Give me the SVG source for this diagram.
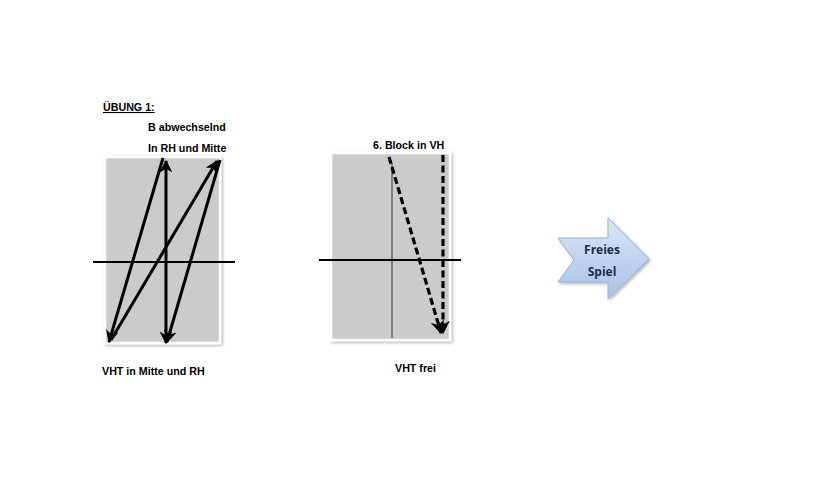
<svg xmlns="http://www.w3.org/2000/svg" width="820" height="500" viewBox="0 0 820 500">
<defs>
<style>
.t{font-family:"Liberation Sans",Arial,sans-serif;font-weight:bold;font-size:10.7px;fill:#000}
.panel{fill:#cbcbcb;stroke:#ffffff;stroke-width:2.5}
.ln{stroke:#000;stroke-width:3;fill:none}
.dash{stroke:#000;stroke-width:3.2;fill:none;stroke-dasharray:7,3.5}
.axis{stroke:#000;stroke-width:2.2}
.thin{stroke:#333;stroke-width:1}
.lbl{font-family:"Open Sans","Liberation Sans",sans-serif;font-weight:bold;font-size:12px;fill:#1b2f4d;text-anchor:middle}
</style>
<filter id="sh" x="-10%" y="-10%" width="125%" height="125%">
<feDropShadow dx="1.5" dy="1.5" stdDeviation="1.5" flood-color="#000" flood-opacity="0.3"/>
</filter>
<marker id="ah" viewBox="0 0 10 10" refX="9" refY="5" markerWidth="4.3" markerHeight="4.3" orient="auto-start-reverse" markerUnits="strokeWidth">
<path d="M0,0 L10,5 L0,10 L3,5 z" fill="#000"/>
</marker>
<linearGradient id="bg" x1="0" y1="0" x2="0" y2="1">
<stop offset="0" stop-color="#dbe6f5"/>
<stop offset="1" stop-color="#a9c2e6"/>
</linearGradient>
</defs>

<g id="title">
<text class="t" x="103" y="111" text-decoration="underline">ÜBUNG 1:</text>
</g>

<g id="panel1">
<rect class="panel" x="105" y="157" width="115" height="186" filter="url(#sh)"/>
<line class="axis" x1="93" y1="262" x2="235" y2="262"/>
<text class="t" x="148" y="131">B abwechselnd</text>
<text class="t" x="148" y="152">In RH und Mitte</text>
<text class="t" x="102" y="375">VHT in Mitte und RH</text>
</g>

<g id="panel2">
<rect class="panel" x="331" y="153" width="119" height="187" filter="url(#sh)"/>
<line class="thin" x1="392" y1="163" x2="392" y2="338"/>
<line class="axis" x1="319" y1="260" x2="461" y2="260"/>
<text class="t" x="373" y="149">6. Block in VH</text>
<text class="t" x="395" y="372">VHT frei</text>
</g>

<g id="freies-spiel">
<path d="M558,238 L608,238 L608,218 L649,259 L608,299 L608,282 L558,282 L574,260 Z" fill="url(#bg)" stroke="#95b0d8" stroke-width="1" filter="url(#sh)"/>
<text class="lbl" x="602" y="254">Freies</text>
<text class="lbl" x="602" y="276">Spiel</text>
</g>

<g id="connectors">
<line class="ln" x1="163" y1="158" x2="109" y2="342" marker-end="url(#ah)"/>
<line class="ln" x1="111" y1="340" x2="217" y2="161" marker-end="url(#ah)"/>
<line class="ln" x1="220" y1="160" x2="167" y2="342" marker-end="url(#ah)"/>
<line class="ln" x1="166" y1="161" x2="166" y2="343" marker-start="url(#ah)" marker-end="url(#ah)"/>
<line class="dash" x1="389" y1="157" x2="441" y2="333" marker-end="url(#ah)"/>
<line class="dash" x1="443" y1="155" x2="443" y2="333" marker-end="url(#ah)"/>
</g>
</svg>
